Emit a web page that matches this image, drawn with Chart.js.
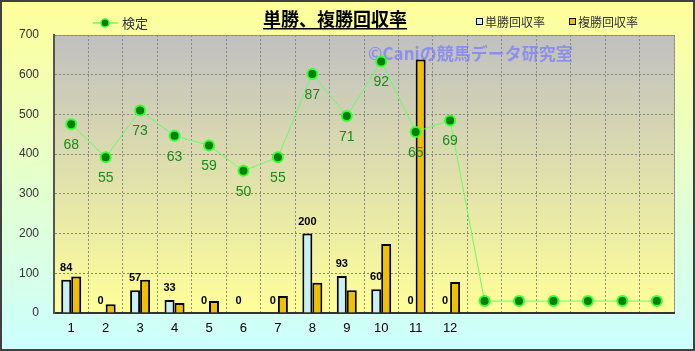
<!DOCTYPE html>
<html>
<head>
<meta charset="utf-8">
<script src="https://cdn.jsdelivr.net/npm/chart.js@4"></script>
<style>
  body { margin: 0; background: #fff; }
</style>
</head>
<body>
<canvas id="chart" width="695" height="351"></canvas>
<script>
// data
const categories = ["1", "2", "3", "4", "5", "6", "7", "8", "9", "10", "11", "12", "", "", "", "", "", ""];
const tanshoValues = [84, 0, 57, 33, 0, 0, 0, 200, 93, 60, 0, 0];
const fukushoValues = [92, 22, 84, 25, 30, 0, 43, 76, 57, 174, 638, 78];
const kenteiValues = [475, 392, 510, 446, 422, 358, 392, 602, 496, 633, 456, 485, 30, 30, 30, 30, 30, 30];
const kenteiLabels = ["68", "55", "73", "63", "59", "50", "55", "87", "71", "92", "65", "69"];
const yTicks = [0, 100, 200, 300, 400, 500, 600, 700];

const JP = '"Noto Sans CJK JP", sans-serif';
const NUM = '"Liberation Sans", Arial, sans-serif';

// backgrounds, title, legend, value labels
const decor = {
    id: "decor",
    beforeDraw(chart) {
        const { ctx, width, height, chartArea: a } = chart;
        ctx.save();
        let g = ctx.createLinearGradient(0, 0, 0, height);
        g.addColorStop(0, "#ffff99");
        g.addColorStop(1, "#ccffff");
        ctx.fillStyle = g;
        ctx.fillRect(0, 0, width, height);

        g = ctx.createLinearGradient(0, a.top, 0, a.bottom);
        g.addColorStop(0, "#c0c0c0");
        g.addColorStop(1, "#ffff99");
        ctx.fillStyle = g;
        ctx.fillRect(a.left, a.top, a.right - a.left, a.bottom - a.top);
        ctx.strokeStyle = "#999";
        ctx.lineWidth = 1;
        ctx.strokeRect(a.left + 0.5, a.top + 0.5, a.right - a.left, a.bottom - a.top);
        ctx.restore();
    },
    beforeDatasetsDraw(chart) {
        const { ctx } = chart;
        ctx.save();
        ctx.font = "bold 17px " + JP;
        ctx.fillStyle = "rgba(120,120,255,0.7)";
        ctx.textBaseline = "middle";
        ctx.fillText("©Caniの競馬データ研究室", 368, 54);
        ctx.restore();
    },
    afterDatasetsDraw(chart) {
        const { ctx } = chart;
        ctx.save();
        ctx.textAlign = "center";
        ctx.textBaseline = "middle";

        // 単勝 labels above the light blue bars
        const tMeta = chart.getDatasetMeta(1);
        ctx.font = "bold 11px " + NUM;
        ctx.fillStyle = "#000";
        tanshoValues.forEach((v, i) => {
            const bar = tMeta.data[i];
            ctx.fillText(String(v), bar.x, bar.y - 12);
        });

        // 検定 labels below the points
        const lMeta = chart.getDatasetMeta(0);
        ctx.font = "14px " + NUM;
        ctx.fillStyle = "#1a8a1a";
        kenteiLabels.forEach((t, i) => {
            const p = lMeta.data[i];
            ctx.fillText(t, p.x, p.y + 21);
        });
        ctx.restore();
    },
    afterDraw(chart) {
        const { ctx, width, height } = chart;
        ctx.save();
        // title
        ctx.font = "bold 18px " + JP;
        ctx.fillStyle = "#000";
        ctx.textAlign = "center";
        ctx.textBaseline = "middle";
        const title = "単勝、複勝回収率";
        ctx.fillText(title, 335, 19);
        const tw = ctx.measureText(title).width;
        ctx.fillRect(335 - tw / 2, 28, tw, 1.5);

        // legend: line
        ctx.strokeStyle = "#66ff66";
        ctx.lineWidth = 1.5;
        ctx.beginPath();
        ctx.moveTo(93, 23);
        ctx.lineTo(118, 23);
        ctx.stroke();
        ctx.beginPath();
        ctx.arc(105, 23, 4, 0, Math.PI * 2);
        ctx.fillStyle = "#008000";
        ctx.fill();
        ctx.strokeStyle = "#33ff33";
        ctx.lineWidth = 1.5;
        ctx.stroke();

        ctx.textAlign = "left";
        ctx.font = "13px " + JP;
        ctx.fillStyle = "#333";
        ctx.fillText("検定", 122, 23);

        // legend: bars
        const sq = (x, col, txt) => {
            ctx.fillStyle = col;
            ctx.fillRect(x, 18, 6, 6);
            ctx.strokeStyle = "#000";
            ctx.lineWidth = 1;
            ctx.strokeRect(x + 0.5, 18.5, 6, 6);
            ctx.fillStyle = "#333";
            ctx.font = "12px " + JP;
            ctx.fillText(txt, x + 9, 22);
        };
        sq(476, "#c8f0f8", "単勝回収率");
        sq(569, "#f0c000", "複勝回収率");

        // outer frame
        ctx.strokeStyle = "#404040";
        ctx.lineWidth = 2;
        ctx.strokeRect(1, 1, width - 2, height - 2);
        ctx.restore();
    }
};

new Chart(document.getElementById("chart"), {
    type: "bar",
    data: {
        labels: categories,
        datasets: [
            {
                type: "line",
                label: "検定",
                data: kenteiValues,
                borderColor: "#66ff66",
                borderWidth: 1,
                pointRadius: 5,
                pointBackgroundColor: "#008000",
                pointBorderColor: "#33ff33",
                pointBorderWidth: 2,
                tension: 0,
                order: 0
            },
            {
                label: "単勝回収率",
                data: tanshoValues,
                backgroundColor: "#c8f0f8",
                borderColor: "#000",
                borderWidth: 2,
                categoryPercentage: 0.58,
                barPercentage: 1,
                order: 1
            },
            {
                label: "複勝回収率",
                data: fukushoValues,
                backgroundColor: "#f0c000",
                borderColor: "#000",
                borderWidth: 2,
                categoryPercentage: 0.58,
                barPercentage: 1,
                order: 1
            }
        ]
    },
    options: {
        responsive: false,
        animation: false,
        devicePixelRatio: 1,
        layout: { padding: { left: 0, right: 21, top: 35, bottom: 0 } },
        plugins: {
            legend: { display: false },
            title: { display: false },
            tooltip: { enabled: false }
        },
        scales: {
            x: {
                grid: { color: "#888", drawTicks: false },
                border: { color: "#333", width: 2, dash: [2, 2] },
                ticks: { color: "#000", font: { family: NUM, size: 13 }, padding: 8, autoSkip: false, maxRotation: 0 },
                afterFit(scale) { scale.height = 38; }
            },
            y: {
                min: 0,
                max: 700,
                afterBuildTicks(scale) { scale.ticks = yTicks.map(v => ({ value: v })); },
                grid: { color: "#888", drawTicks: false },
                border: { color: "#555", width: 2, dash: [2, 2] },
                ticks: { color: "#333", font: { family: NUM, size: 12 }, padding: 15 },
                afterFit(scale) { scale.width = 54; }
            }
        }
    },
    plugins: [decor]
});
</script>
</body>
</html>
